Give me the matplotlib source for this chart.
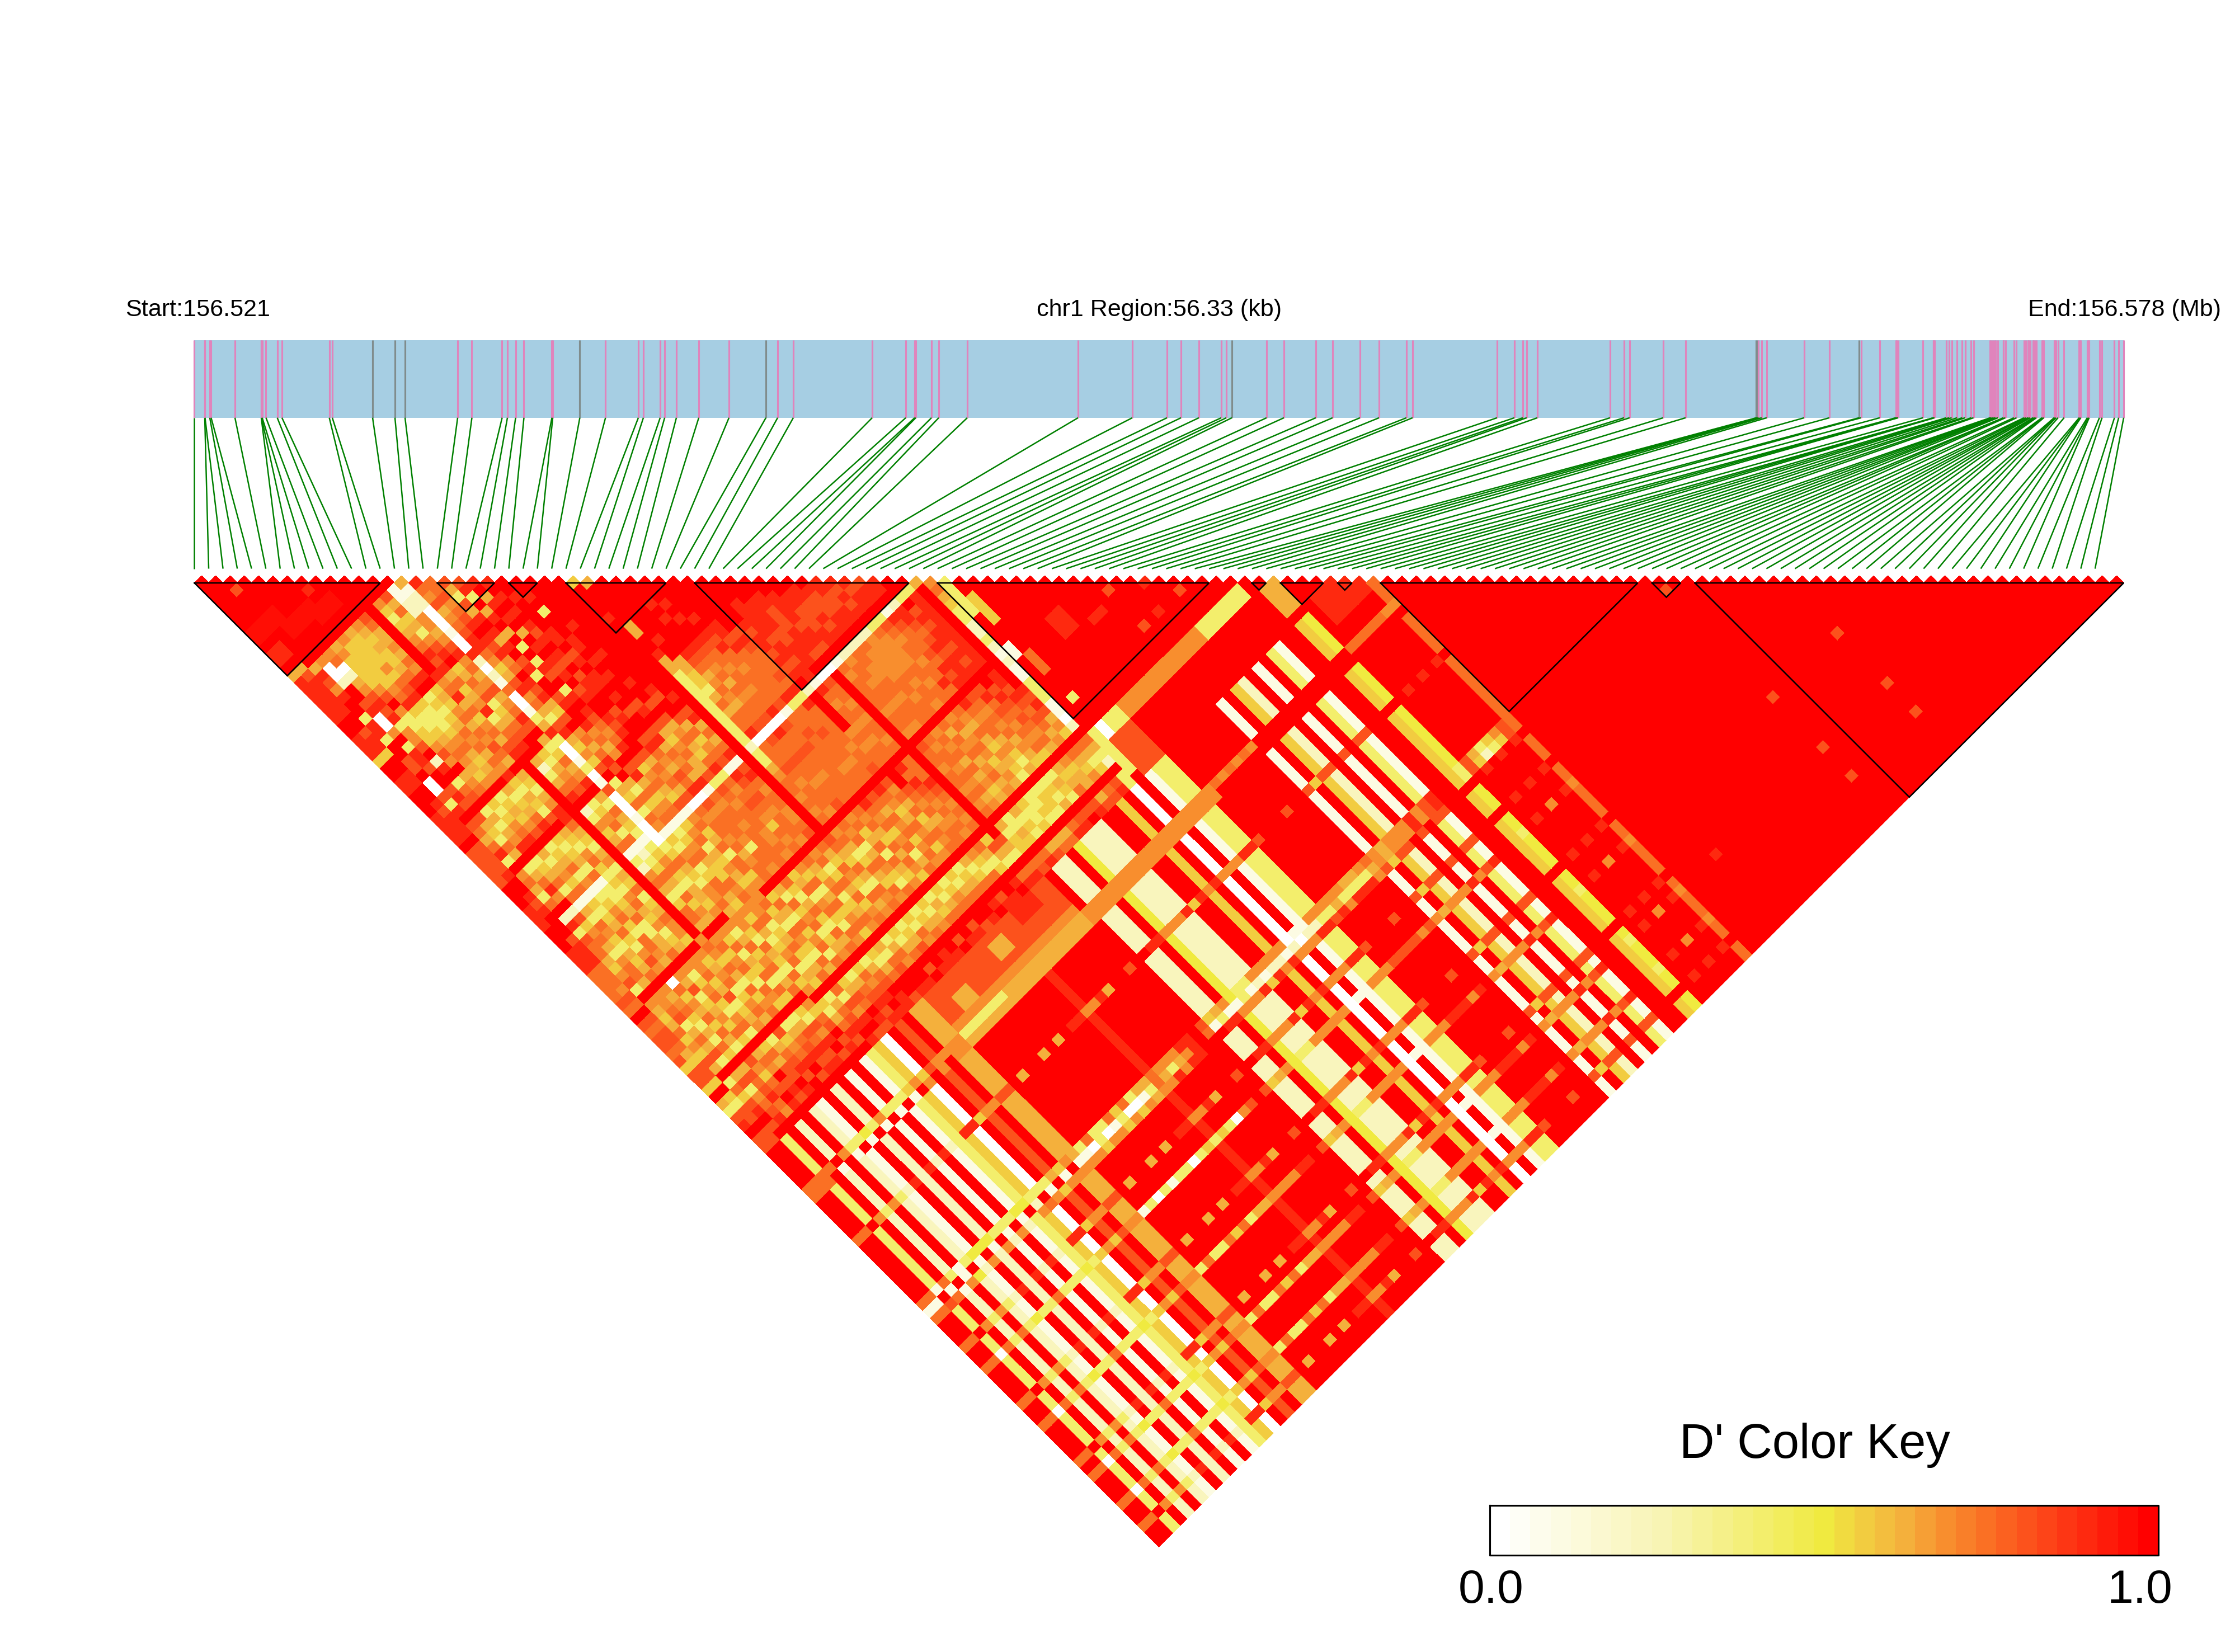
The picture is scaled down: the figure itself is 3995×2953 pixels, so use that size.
import matplotlib
matplotlib.use("Agg")
import matplotlib.pyplot as plt
import numpy as np
from matplotlib.collections import PolyCollection
from matplotlib.colors import LinearSegmentedColormap

plt.rcParams['font.family'] = ['Liberation Sans', 'DejaVu Sans']

N_SNP = 136
# physical SNP positions on the gene bar, read in image pixels
snp_pos = [347.5,366,366.5,375,377.4,420,467,467.5,468.7,475.5,495.6,504,588.6,594,666,706,724,818,843.5,897.5,
 907,921.6,936.5,986.5,988,1036.4,1082.3,
 1141,1150,1180,1188,1209,1249,1303,1369,1390,1418,1559,1619,1635,1637,1665,1678,1729,1927,2024,2086,2111,2143,
 2183,2192,2202,2264,2295,2352,2382,2431,2465,2514,2525,2676,2707,2722,2729,2748,2878,2903,2913,2973,3013,
 3139.5,3141,3143.5,3149,3158,3225,3270,3323,3326.6,3360,3388.6,3390.4,3393,3437.4,3456,3458,3456.4,3478.8,3484,3488.6,3498.3,
 3507.5,3512.7,3523.5,3527.6,3557.4,3559,3562,3565.4,3567,3571.2,3581,3581.2,3584.6,3599.7,3604.5,3617.7,3621,3625,3626,3629,3633.8,3635,3637.6,3640,3649.8,3651,3653.2,
 3671.6,3673,3675,3678.7,3689.5,3716.5,3718,3719.3,3731,3733,3734.3,3752.6,3757.3,3779.5,3787,3796]
snp_pos = sorted(snp_pos)[:N_SNP]
grey_snps = [14,15,16,25,34,51,70,71,77]

# value of each colour code used in the hand-read matrix below
code_values = {'R':1.0,'r':.95,'e':.88,'o':.81,'O':.75,'a':.69,'A':.62,'G':.56,'Y':.5,'y':.4,'P':.22,'p':.1,'W':0.0}

# D' rows for i=0..51, from j=max(14,i+1) up to j=80 (spaces only separate column groups)
rows_near = [
"A eeeeeeRReee GRReeRRReee eRoooooRRReeeR R ReeeOOOOoO R oOooOoGooG R AyoeRoo",
"A oeeeeeRRoee GRReeRReoee eRooooeRReoeRR R oeeeOOOaoO R oOooOAGooG R GyooRoo",
"R AeoaeRRyee yRRooRWWoye RoOAOeyRaOAyOR P eyoOOAGaoy R OAGAOGaGoA R yOGoeRo",
"R aWWPRRoeWW aRyeeoRRoeo RoAGyOARyAOeaR P oGaOAyaoOA R GaOoyAOAoy R AoyaOoe",
"R aOWPAaoeoe yaaoRPeRyOo RyAyAaeRyGAOyO p AyOaGyAOAO R yAaOGyAyOG R AoOoeOa",
"R AaGGGGaoRa yyGGaoaRAaO RGyGaOeRAyAaGO p GyGAOGyAoa R aOGaAOGOAy R oaGOoRe",
"R aGGGGGGaOe GyyGAaOaAGa RyGAGaoRyGAOya p yGaOGyOGaA R GAoyGAaGOG R AOaRoeo",
"R AGGGGaGOoe GyyyGaOAGAa RAyGAOeRGyGAyO p yyGAOyyGAO R OyGaOGyaOy R GOAooRe",
"R aAGAGGAOeR yGyGAOaOAOa eGyAGyoRAGyaOG y GyaOAGaOGA R yaOGAoyGAa R yAOoeoR",
"R oOAAaAOaeR GAGaOAOaoOA RAGyAaeeOAGyAa y AGOyGAOyaG R OGAaOyGaOA R oGaOeRo",
"R RRRRRRRRRe aOeAOGaOAoe RRRRRRRRRRRRRR R RRRRRRRRRR a OaGOAyOGaO R yAOoeoe",
"R aGyGAaOeoe AOGAaeyAOoe RAPyAOeRPyaGAO p yPaOAyGaOA R yOGaOGyOaG R yAoOeoe",
"R oAOGAyaoeR GAOaoyGAOoR RGyAaOoRyGaOyO p PyGOAyOGaA R aGOyAGOyOG R GyoaeRo",
"R ppPPaaAaoe aOAaoAaOeoR AyGOAaeRAyOAGy p yGaOGyAOGa R GyAOGaOyAO R aGOoRoe",
"ApPPWWWpWWe PWPpOWWpyAe yWWpyWpoWWWpWW W yGOAGyGaOA R aGyOAGyOGa R GyAOeoR",
"eOaoAaOoee OaGAoeaOAyo eAGaGoRyAGOyOa p GyaOyGAOAG R GOAyGaOyAG R yAOoeRe",
"OOoaOoeRe oeaOReoeAGo RaOAOeoRAyOGaO p yGaOAGyOaO R aOyGAOGyAO R OyoaeRo",
"oAyoAeRe AeRoeyRRoeR ReaOAaRoeAOGaO p GaOyAGOAGa R OGAyOaGyOA R GAoOReo",
"oeyRAeR ARyRyeoRyeR eoOaOeRoGaOAGo p aOGAOyAOGa R GOAyOGaOyO R yAOoeoe",
"eRAeRe RAReReoeRoe RReoeRRoAOaOAo W OaOOaOOaOO R AyOGaOyGAa R GOaoeRe",
"eReRe ReoeReoRoee RRoeRRoeOaAoOe W oaOOOaOOOa R OGyAOGyOAO R yAOoRee",
"RReR RRReeRoeRee ReRoRRoeAOaOAe p OaOOaOaOOO R GAOyaOGyOa R GyAOeRo",
"RRe RyRRReeReRe RRRoeRoAGaOAAo y oOaOOOOaOa R aGOyAOGaOG R AyOoeRe",
"RR RRRReRRReRR ReRRoRoAaOAGOe y OaOoOaOOaO R OAGaOyGAOa R yAOaoRe",
"R RRRRRRRRRRR RRReoRRoAOGaOo p eoOoOaOOOa R aOyGOAOGaO R GyAOeoR",
"RRRRRRRRRRR RRRRReRoeAOAOe p oeOaOOOaOo R OAGOaGyOAa R yGAooRe",
"GRRRReRRRR RRRRRRRRRRRRRR R RRRRRRRRRR R oOAGOAyOaO R GyOaoee",
"ARRRRRAAR ReAAyyyyyyyyyy P yyAaOOaOaO R aOAyGOAGOa R yGAOoRe",
"RRRRRRRR eRRAAGGyAOAOOe W OOOoOaOOOa R OaOyAOaGyO R GyAaeoR",
"RRRRRRR RRReoOAaOaAOOo W oOOoOOaOOo R aOGAOyOAGa R yAGOoRe",
"RRReRe RRReoOaOAOaOOo W eOOoOOaOOO R OaOAGOAOaG R GyAOeoe",
"RRReR eRReoOOaOOaOOe W oOOoOOOOOO R eOaOGaOyAO R yGaOoRo",
"RRRR ReReoeOOaOOOOo p OOoOOOOaOO R oOAOaOGaOa R GyAOeRe",
"RRR RRReeoeOOOOOOe y OOOoOOOaOO R eOaGAOaOGa R yGAOoeR",
"RR RRRRRoeoOOOoOe y eOOOOOaOOo R oaOAOGAOaO R AyGOeoe",
"R RRRRReoeeoeoeR P RRRRRaOaOO R RRoOaOAaOO R aGyOoRe",
"RRReeeeeoeeoee p eOaOOaOaOO R eOeoOaOaOa R OAyGoeR",
"RRReeeeooeeeR W oOOaOaOOaO R OOOeoOaOaO R GoAyGOe",
"RReeoooeeeoR W RRRRRRRRRR R RRRRRRRRRR R RoAyGOe",
"RReeeeoeeoR p OaOOOOaOOa R oOOaOOaOaO R AyGGAOo",
"RReeoooeeR P aOOaOOaOOa R OaOOaOaOAa R yyAGyOe",
"ReeooeoeR P OOaaOOaOOO R aOaOAOAaGA R AyGyGAo",
"ReoooeeR P OaaaaOOaOO R OAOaOAaOAa R GyyGyAO",
"eeooeeR P aaaaaOaOOa R aOAaOaGAaA R yyGyyAO",
"eoeoeR y OaaaaOOaOO R OaAOAGaAGy R yGGyAOe",
"eoeeR y oOaOOaOOeO R eOaOOAaGyA R yGyAOoe",
"oeeR p eoOOOoOeoe R oOaOaOAaAG R yAGyOoR",
"eeR P eeoOoeoeee R oeOoOaOaOG R AGAOAoe",
"RR y Roeoeeoeoe R RoeoOoOaOA R aGAAOAo",
"R y eeeeeeeeee R eeoeoOoOAa R OAGaAOo",
"A RRRRRRRRRR R RRReoeoAaG R OAyGAoe",
"aOAGyyPPyP p PppyyyppWP R OAyPWyy",
]

# per-SNP colour along its stripe for j>=81 (i=0..82)
i_stripes = "RRyRPRPpRPRpRpyGWRoRAA" + "RRRRRRRRRR" + "e" + "RRRRRRR" + "PPRYPPPRRGRWRpyy" + "RRRRRRR" + "pRGPRpRypRRGY" + "RRRRRR" + "O"

# rows of j that cross the stripes, given as colours for i=0..82
row_g1 = "OORayayPePePePyeeGaaoo" + "RARRARAReeaaeARRo" + "RReeaaaeGeaeaaaeeo" + "RRRoRR" + "oGooRoRooRRRR" + "ReReReR"
row_g2 = "OOWOyOyYyyOyyyYyGaGoaa" + "yOyyOGOyAAaaaaeeR" + "oGAaYyyaaaaaWppaaa" + "eeeaeR" + "aAaaaeaoeRRGy" + "ReRaRea"
row_111 = "OOWOyOyYyyOyyyYyGaGoaa" + "pyWypyyWyGyGyWaoR" + "oGAaYyyaaaaaWppaaa" + "ooooao" + "aAaaaeaoeRRGy" + "ReRaRea"
row_102 = "OOpOypy" + "YYYyyyYYyyyAGaA" + "yOyyOGOyAAOa" + "aaeeR" + "oGAaYyyaaaaaWppaaa" + "aaAAaO" + "aAaaaeaoeRRGy" + "oAyGaoO"
row_103 = "ppRpRp" + "RpRpRpRpRPRpRpRp" + "pWyWpyWWpyOA" + "yAaeR" + "OpyppypPpPPpPWPPyy" + "AyyyyA" + "aAaaaeaoeRRGy" + "oGPyGoO"
row_104 = "OOoOpaY" + "PaPaPaPyaOaGaaa" + "aaGaaGaGaAaa" + "eaeeR" + "RReeaaaeGeaeaaaeeo" + "eaeeea" + "oGooRoRooRRRR" + "ReReReR"
row_86 = "OOOORa" + "yyYyayyyGaGoaaaa" + "yyyyyyAAAAAAAAAAA" + "aaaaaaaaaaaaaaaaaa" + "OaOaOa" + "RRRRRRRRRRRRR" + "OOOOOaa"
row_87 = "OOORpR" + "pRpRpRpRpRaRaRaa" + "AAAAAAAAAAAAAAAAA" + "aaaaaaaaaaaaaaaaaa" + "RRRRRR" + "RRRRRRRRRRRRR" + "RRRRRRR"
row_58 = "OOaOGaOAyaROGAaOGaOAyOaGOa"
rows_g1 = [93, 108, 116, 124, 133]
rows_g2 = [119, 126, 130]

# patches: i0, i1, j0, j1, code
patches = [
 (0,3,8,9,'r'),(3,6,10,11,'r'),(6,8,11,12,'r'),(0,1,11,12,'e'),(2,2,4,4,'o'),(7,7,9,9,'e'),
 (2,9,62,62,'a'),(5,5,62,62,'W'),(11,17,62,62,'a'),(20,52,78,78,'R'),
 (22,38,81,84,'o'),(22,38,85,85,'a'),(30,31,82,83,'A'),(24,25,83,84,'A'),(34,36,81,82,'e'),
 (52,52,53,57,'y'),(53,53,56,59,'G'),(52,52,62,63,'p'),(53,53,64,66,'O'),(53,53,70,70,'y'),
 (57,58,63,65,'e'),(60,61,66,66,'e'),(63,63,65,65,'o'),(63,63,70,70,'o'),(68,68,70,70,'o'),
 (66,67,67,67,'e'),(65,65,70,70,'e'),
 (56,66,74,75,'a'),(67,72,74,75,'y'),(52,55,74,75,'y'),(53,53,74,75,'W'),(52,52,76,79,'y'),(53,55,76,80,'o'),
 (74,75,76,79,'A'),(77,81,80,83,'e'),
 (111,111,119,119,'o'),(111,111,126,126,'o'),(111,111,130,130,'o'),
 (102,102,119,119,'o'),(102,102,126,126,'o'),(102,102,130,130,'o'),(87,87,126,126,'e'),(102,102,104,104,'o'),
 (82,82,108,108,'R'),(82,82,116,116,'R'),(82,82,124,124,'R'),(82,82,133,133,'R'),
]

# triangles around the LD blocks (first and last SNP)
blocks = [(0,13),(17,21),(22,24),(26,33),(35,50),(52,71),(74,75),(76,79),(80,81),(83,101),(102,104),(105,135)]

key_nodes = [(0,'#ffffff'),(.25,'#f8f4b4'),(.5,'#f0ea40'),(.5625,'#f2cc40'),(.625,'#f4b03c'),(.6875,'#f88e2e'),
             (.75,'#fa7024'),(.8125,'#fc521c'),(.875,'#fd3614'),(1,'#ff0000')]
title_start, title_mid, title_end = "Start:156.521", "chr1 Region:56.33 (kb)", "End:156.578 (Mb)"
key_title, key_low, key_high = "D' Color Key", "0.0", "1.0"

# ---------------- assemble matrix
M = np.ones((N_SNP, N_SNP))
for i, row in enumerate(rows_near):
    row = row.replace(' ', '')
    j0 = max(14, i + 1)
    for k, c in enumerate(row):
        if j0 + k <= 80:
            M[i, j0 + k] = code_values[c]
for i, c in enumerate(i_stripes):
    start = 83 if i == 82 else 81
    M[i, start:] = code_values[c]
def put_row(j, codes):
    for i, c in enumerate(codes):
        if i < j:
            M[i, j] = code_values[c]
for j in rows_g1: put_row(j, row_g1)
for j in rows_g2: put_row(j, row_g2)
put_row(111, row_111); put_row(102, row_102); put_row(103, row_103); put_row(104, row_104)
put_row(86, row_86); put_row(87, row_87); put_row(58, row_58)
for i0, i1, j0, j1, c in patches:
    M[i0:i1+1, j0:j1+1] = code_values[c]

# ---------------- drawing
fig = plt.figure(figsize=(3995/300, 2953/300), dpi=300)
ax = fig.add_axes([0, 0, 1, 1])
ax.set_xlim(0, 3995); ax.set_ylim(2953, 0); ax.axis('off')

X0, X1 = 347.5, 3796.0
TOP = 1042.0
HW = (X1 - X0) / (N_SNP - 1) / 2
HH = (2765 - TOP) / (N_SNP - 1)
snp_x = [X0 + 2 * HW * i for i in range(N_SNP)]

cmap = LinearSegmentedColormap.from_list('dprime', key_nodes, N=33)
polys, vals = [], []
for i in range(N_SNP):
    for j in range(i + 1, N_SNP):
        cx = X0 + HW * (i + j)
        cy = TOP + HH * (j - i - 1)
        polys.append([(cx - HW, cy), (cx, cy - HH), (cx + HW, cy), (cx, cy + HH)])
        vals.append(M[i, j])
pc = PolyCollection(polys, array=np.array(vals), cmap=cmap, clim=(0, 1), edgecolors='face', linewidths=0.05, antialiased=False, zorder=1)
ax.add_collection(pc)

for a, b in blocks:
    xa, xb = snp_x[a], snp_x[b]
    ax.plot([xa, xb, (xa + xb) / 2, xa], [TOP, TOP, TOP + HH * (b - a), TOP], color='black', lw=0.62, solid_joinstyle='miter', zorder=3)

# gene bar
ax.fill_between([X0, X1], 607.5, 746.8, color='#a6cee3', lw=0, zorder=1)
for k, x in enumerate(snp_pos):
    col = '#808c8c' if k in grey_snps else '#e084bc'
    ax.plot([x, x], [607.5, 746.8], color=col, lw=0.75, solid_capstyle='butt', zorder=2)
    ax.plot([x, snp_x[k]], [746.8, 1016.5], color='#008000', lw=0.6, solid_capstyle='butt', zorder=2)

ax.text(224, 554, title_start, fontsize=10.35, ha='left', va='center')
ax.text(2072, 554, title_mid, fontsize=10.35, ha='center', va='center')
ax.text(3970, 554, title_end, fontsize=10.35, ha='right', va='center')

# colour key
kx0, kx1, ky0, ky1 = 2663.0, 3858.0, 2691.0, 2780.0
key_edges = np.linspace(kx0, kx1, 34)
key_vals = np.array([[ (k + 0.5) / 33 for k in range(33)]])
ax.pcolormesh(key_edges, [ky0, ky1], key_vals, cmap=cmap, vmin=0, vmax=1, zorder=2)
ax.plot([kx0, kx1, kx1, kx0, kx0], [ky0, ky0, ky1, ky1, ky0], color='black', lw=0.75, zorder=3)
ax.text(3244, 2584, key_title, fontsize=20.8, ha='center', va='center')
ax.text(2665, 2843, key_low, fontsize=20.2, ha='center', va='center')
ax.text(3825, 2843, key_high, fontsize=20.2, ha='center', va='center')

fig.savefig('out.png', dpi=300, facecolor='white')
